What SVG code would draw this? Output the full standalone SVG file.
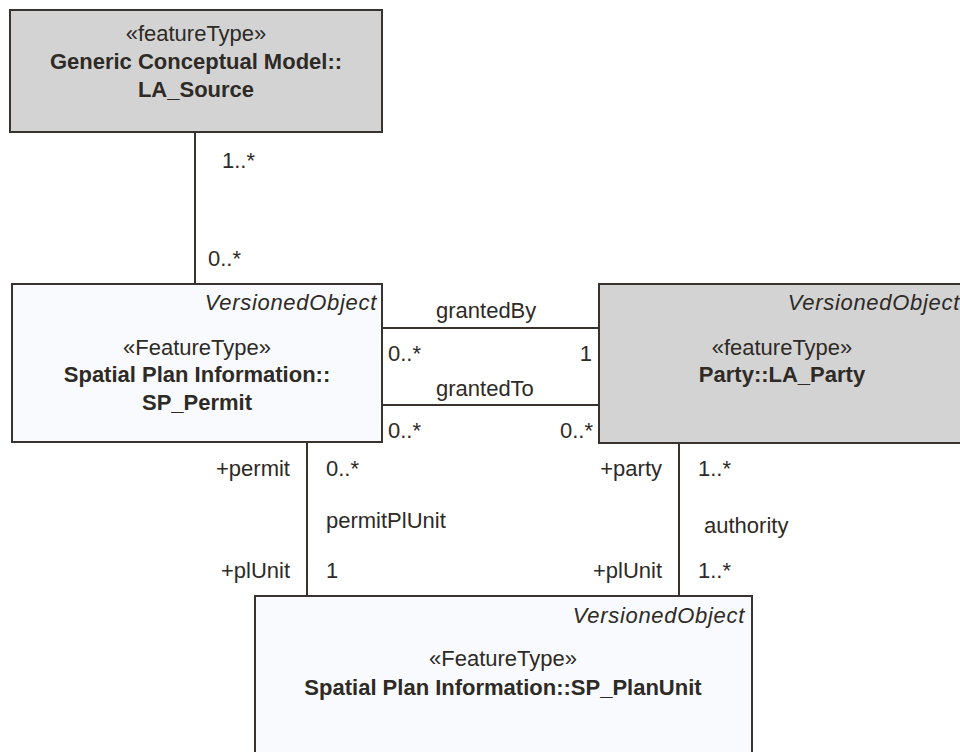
<svg xmlns="http://www.w3.org/2000/svg" width="960" height="752" viewBox="0 0 960 752">
<style>
text{font-family:"Liberation Sans",Arial,sans-serif;font-size:22px;fill:#2e2a26}
.b{font-weight:bold}
.i{font-style:italic;letter-spacing:0.7px}
.m{text-anchor:middle}
.e{text-anchor:end}
.gray{fill:#d3d3d3;stroke:#38332e;stroke-width:2}
.lite{fill:#f8fafd;stroke:#38332e;stroke-width:2}
.c line{stroke:#38332e;stroke-width:2}
</style>
<rect width="960" height="752" fill="#fff"/>
<g class="c" id="connectors">
<line x1="195" y1="132" x2="195" y2="284"/>
<line x1="382" y1="328" x2="599" y2="328"/>
<line x1="382" y1="405" x2="599" y2="405"/>
<line x1="307" y1="442" x2="307" y2="596"/>
<line x1="679" y1="443" x2="679" y2="596"/>
<text x="222" y="168">1..*</text>
<text x="208" y="266">0..*</text>
<text x="436" y="318">grantedBy</text>
<text x="388" y="361">0..*</text>
<text x="592" y="361" class="e">1</text>
<text x="436" y="396">grantedTo</text>
<text x="388" y="438">0..*</text>
<text x="593" y="438" class="e">0..*</text>
<text x="290" y="476" class="e">+permit</text>
<text x="326" y="476">0..*</text>
<text x="326" y="528">permitPlUnit</text>
<text x="290" y="578" class="e">+plUnit</text>
<text x="326" y="578">1</text>
<text x="662" y="476" class="e">+party</text>
<text x="698" y="476">1..*</text>
<text x="704" y="533">authority</text>
<text x="662" y="578" class="e">+plUnit</text>
<text x="698" y="578">1..*</text>
</g>
<g id="LA_Source">
<rect x="10" y="10" width="372" height="122" class="gray"/>
<text x="196" y="41" class="m">«featureType»</text>
<text x="196" y="69" class="m b">Generic Conceptual Model::</text>
<text x="196" y="97" class="m b">LA_Source</text>
</g>
<g id="SP_Permit">
<rect x="12" y="284" width="370" height="158" class="lite"/>
<text x="377" y="310" class="e i">VersionedObject</text>
<text x="197" y="355" class="m">«FeatureType»</text>
<text x="197" y="382" class="m b">Spatial Plan Information::</text>
<text x="197" y="410" class="m b">SP_Permit</text>
</g>
<g id="LA_Party">
<rect x="599" y="284" width="370" height="159" class="gray"/>
<text x="960" y="310" class="e i">VersionedObject</text>
<text x="782" y="355" class="m">«featureType»</text>
<text x="782" y="382" class="m b">Party::LA_Party</text>
</g>
<g id="SP_PlanUnit">
<rect x="255" y="596" width="497" height="170" class="lite"/>
<text x="745" y="623" class="e i">VersionedObject</text>
<text x="503" y="666" class="m">«FeatureType»</text>
<text x="503" y="695" class="m b">Spatial Plan Information::SP_PlanUnit</text>
</g>
</svg>
